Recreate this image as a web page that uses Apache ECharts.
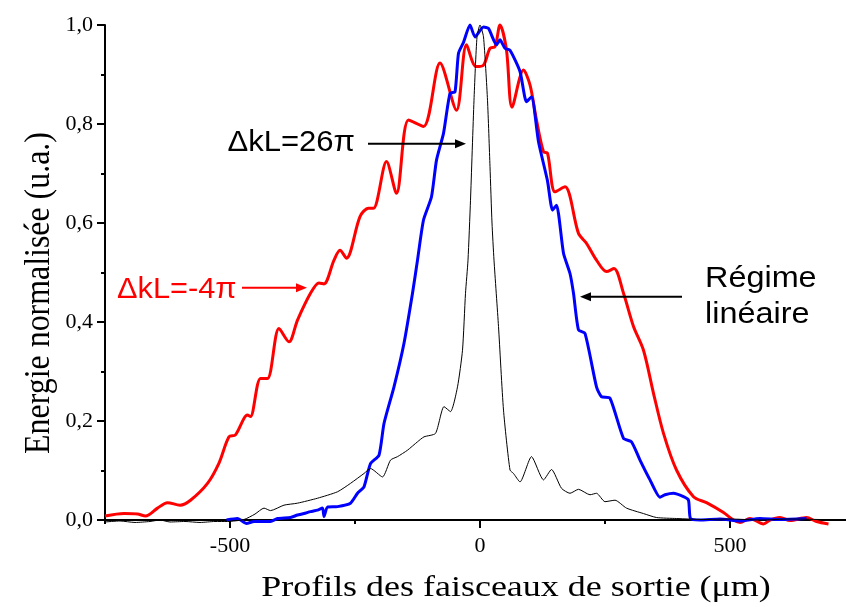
<!DOCTYPE html>
<html>
<head>
<meta charset="utf-8">
<script src="https://cdn.jsdelivr.net/npm/echarts@6/dist/echarts.min.js"></script>
<style>html,body{margin:0;padding:0;background:#fff}#c{width:846px;height:607px}</style>
</head>
<body>
<div id="c"></div>
<script>
// ---- data (x in µm, y normalised energy) ----
const redX = [-750,-712,-685,-669,-645,-625,-600,-579,-545,-522,-502,-489,-465,-459,-439,-425,-402,-382,-365,-339,-322,-312,-292,-280,-267,-240,-223,-213,-187,-167,-143,-113,-80,-47,-27,-8,7,20,30,40,53,64,87,100,113,127,135,150,170,197,213,233,253,268,287,307,327,347,367,393,427,453,487,507,520,540,567,580,600,620,653,673,697];
const redY = [0.008,0.013,0.012,0.008,0.024,0.035,0.030,0.040,0.074,0.115,0.168,0.172,0.212,0.209,0.286,0.286,0.387,0.360,0.404,0.458,0.479,0.477,0.525,0.545,0.529,0.613,0.630,0.630,0.724,0.660,0.808,0.795,0.923,0.828,0.960,0.916,0.919,0.953,0.956,1.0,0.949,0.834,0.909,0.879,0.808,0.744,0.741,0.663,0.673,0.579,0.559,0.525,0.502,0.508,0.458,0.391,0.343,0.256,0.175,0.101,0.047,0.035,0.015,0.0,-0.005,0.003,-0.008,0.0,0.005,-0.001,0.005,-0.003,-0.008];

const blueX = [-507,-485,-467,-452,-419,-405,-379,-365,-352,-339,-325,-315,-312,-305,-285,-259,-245,-232,-219,-202,-192,-172,-152,-135,-125,-113,-97,-87,-73,-60,-50,-43,-33,-20,-10,7,17,33,40,50,60,80,93,103,117,135,145,153,167,180,187,197,210,233,243,260,287,303,320,340,360,370,387,407,417,421,440,480,520,560,600,653];
const blueY = [0.0,0.003,-0.007,-0.003,-0.003,0.003,0.005,0.010,0.013,0.017,0.020,0.024,0.007,0.026,0.027,0.034,0.054,0.067,0.114,0.131,0.195,0.269,0.357,0.458,0.525,0.606,0.653,0.727,0.781,0.862,0.865,0.943,0.965,1.0,0.976,0.996,0.993,0.960,0.970,0.953,0.949,0.906,0.845,0.855,0.764,0.685,0.626,0.636,0.539,0.498,0.458,0.384,0.377,0.269,0.249,0.246,0.165,0.158,0.121,0.081,0.046,0.051,0.054,0.047,0.040,0.003,0.0,0.002,-0.002,0.003,0.001,0.003];

const blackX = [-750,-720,-690,-660,-640,-620,-590,-560,-530,-505,-472,-450,-432,-419,-392,-365,-325,-285,-259,-232,-219,-195,-179,-165,-145,-125,-112,-89,-72,-59,-45,-35,-29,-24,-19,-12,-6,0,7,15,20,24,28,37,47,60,67,80,103,127,143,163,180,197,220,233,250,270,293,327,353,393,447,500,560,620,680,732];
const blackY = [-0.004,-0.002,-0.005,-0.003,0.0,-0.004,-0.003,-0.005,-0.003,-0.003,0.001,0.012,0.024,0.019,0.030,0.034,0.044,0.057,0.074,0.094,0.104,0.087,0.121,0.128,0.141,0.158,0.168,0.175,0.229,0.219,0.269,0.343,0.458,0.525,0.646,0.848,0.976,1.0,0.976,0.848,0.714,0.600,0.525,0.391,0.222,0.101,0.094,0.077,0.128,0.081,0.102,0.064,0.054,0.062,0.051,0.054,0.037,0.040,0.024,0.013,0.005,0.003,0.001,0.002,0.0,0.002,0.001,0.0];

const xMajorTicks = [-500, 0, 500];
const xMinorTicks = [-750, -250, 250, 750];
const yMin = 0, yMax = 1, yStep = 0.2;

const xTitle = 'Profils des faisceaux de sortie (μm)';
const yTitle = 'Energie normalisée (u.a.)';
const labelRed = 'ΔkL=-4π';
const label26 = 'ΔkL=26π';
const labelLin1 = 'Régime';
const labelLin2 = 'linéaire';

const zip = (xs, ys) => xs.map((x, i) => [x, ys[i]]);

const chart = echarts.init(document.getElementById('c'), null, {renderer: 'canvas'});
const serif = '"Liberation Serif", "Times New Roman", serif';
const sans = '"Liberation Sans", Arial, sans-serif';

chart.setOption({
  animation: false,
  backgroundColor: '#fff',
  grid: {left: 105, right: 0, top: 25, bottom: 87, containLabel: false},
  xAxis: [{
    type: 'value', min: -750, max: 732, position: 'bottom',
    axisLine: {onZero: false, lineStyle: {color: '#000', width: 2}},
    axisTick: {customValues: xMajorTicks, length: 8, lineStyle: {color: '#000', width: 2}},
    axisLabel: {customValues: xMajorTicks, margin: 15, color: '#000', fontFamily: serif, fontSize: 22},
    splitLine: {show: false}
  }, {
    type: 'value', min: -750, max: 732, position: 'bottom',
    axisLine: {show: false, onZero: false},
    axisTick: {customValues: xMinorTicks, length: 4, lineStyle: {color: '#000', width: 2}},
    axisLabel: {show: false},
    splitLine: {show: false}
  }],
  yAxis: {
    type: 'value', min: yMin, max: yMax, interval: yStep,
    axisLine: {show: true, onZero: false, lineStyle: {color: '#000', width: 2}},
    axisTick: {show: true, length: 8, lineStyle: {color: '#000', width: 2}},
    minorTick: {show: true, splitNumber: 2, length: 4, lineStyle: {color: '#000', width: 2}},
    axisLabel: {margin: 12, color: '#000', fontFamily: serif, fontSize: 22,
      formatter: v => v.toFixed(1).replace('.', ',')},
    splitLine: {show: false}
  },
  series: [
    {type: 'line', name: 'red', data: zip(redX, redY), showSymbol: false, smooth: 0.3, clip: false,
      lineStyle: {color: '#ff0000', width: 3}},
    {type: 'line', name: 'blue', data: zip(blueX, blueY), showSymbol: false, smooth: 0.2, clip: false,
      lineStyle: {color: '#0000ff', width: 3}},
    {type: 'line', name: 'black', data: zip(blackX, blackY), showSymbol: false, smooth: 0.2, clip: false,
      lineStyle: {color: '#000000', width: 1}}
  ]
});

const P = (x, y) => chart.convertToPixel({xAxisIndex: 0, yAxisIndex: 0}, [x, y]);

function text(t, pos, opts) {
  return Object.assign({
    type: 'text', x: pos[0], y: pos[1], z: 100,
    style: Object.assign({text: t, fill: '#000', textAlign: 'left', textVerticalAlign: 'middle',
      align: 'left', verticalAlign: 'middle'}, opts.style || {})
  }, opts.el || {});
}
function arrow(a, b, color) {
  const dx = b[0] - a[0], dy = b[1] - a[1];
  const L = Math.hypot(dx, dy), ux = dx / L, uy = dy / L;
  const hl = 11, hw = 4.5;
  const base = [b[0] - ux * hl, b[1] - uy * hl];
  return [
    {type: 'line', z: 100, shape: {x1: a[0], y1: a[1], x2: base[0], y2: base[1]},
      style: {stroke: color, lineWidth: 2}},
    {type: 'polygon', z: 100, shape: {points: [b, [base[0] - uy * hw, base[1] + ux * hw], [base[0] + uy * hw, base[1] - ux * hw]]},
      style: {fill: color}}
  ];
}

const g = [];
// axis titles
g.push(text(xTitle, [516, 588], {style: {font: '29px ' + serif, textAlign: 'center', align: 'center'}, el: {scaleX: 1.24, scaleY: 1.05}}));
g.push(text(yTitle, [40, 293], {style: {font: '29px ' + serif, textAlign: 'center', align: 'center'}, el: {rotation: Math.PI / 2, scaleX: 1.1, scaleY: 1.2}}));
// annotations
g.push(text(label26, P(-250, 0.762), {style: {font: '29px ' + sans, textAlign: 'right', align: 'right'}, el: {scaleX: 1.07}}));
g.push(...arrow(P(-224, 0.760), P(-28, 0.760), '#000'));
g.push(text(labelRed, P(-726, 0.465), {style: {font: '29px ' + sans, fill: '#ff0000'}, el: {scaleX: 1.06}}));
g.push(...arrow(P(-476, 0.469), P(-346, 0.469), '#ff0000'));
g.push(text(labelLin1, P(450, 0.487), {style: {font: '30px ' + sans}, el: {scaleX: 1.08}}));
g.push(text(labelLin2, P(450, 0.414), {style: {font: '30px ' + sans}, el: {scaleX: 1.08}}));
g.push(...arrow(P(404, 0.451), P(200, 0.451), '#000'));

chart.setOption({graphic: {elements: g}});
</script>
</body>
</html>
